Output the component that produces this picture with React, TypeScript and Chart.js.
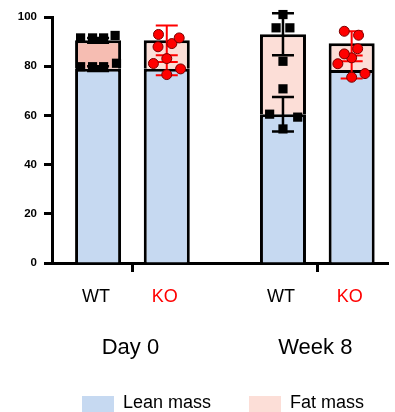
import React, { useEffect, useRef } from "react";
import { Chart, registerables } from "chart.js";

Chart.register(...registerables);

// ---------- data ----------
const TIMEPOINTS = ["Day 0", "Week 8"];
const GENOTYPES = ["WT", "KO"];
const SERIES = ["Lean mass", "Fat mass"];
const Y_TICKS = [0, 20, 40, 60, 80, 100];

const WT_LEAN = [79, 60.5];
const WT_FAT = [11.5, 32.5];
const KO_LEAN = [79, 78.5];
const KO_FAT = [11.5, 10.8];

const WT_LEAN_SD = [1, 7];
const WT_TOTAL_SD = [1, 8.5];
const KO_LEAN_SD = [2.7, 3.5];
const KO_TOTAL_SD = [6, 4.9];

// individual animals (per timepoint)
const WT_TOTAL_PTS = [[91.5, 91.5, 91.5, 92.5], [101, 95.6, 95.6, 82]];
const WT_LEAN_PTS = [[79.8, 79.8, 79.8, 81.2], [70.8, 60.5, 59.3, 54.5]];
const KO_TOTAL_PTS = [[92.9, 87.9, 89.2, 91.5], [94.2, 92.6, 87.1, 85]];
const KO_LEAN_PTS = [[81.1, 83.1, 76.6, 78.9], [83.4, 81, 75.5, 77]];

// horizontal scatter of the dots, as a fraction of the bar width
const WT_TOTAL_JIT = [[-0.38, -0.12, 0.12, 0.37], [0, -0.15, 0.15, 0]];
const WT_LEAN_JIT = [[-0.38, -0.12, 0.12, 0.4], [0, -0.29, 0.32, 0]];
const KO_TOTAL_JIT = [[-0.18, -0.19, 0.11, 0.27], [-0.16, 0.15, 0.13, -0.16]];
const KO_LEAN_JIT = [[-0.29, 0, 0, 0.3], [0, -0.3, 0, 0.29]];

// ---------- styles ----------
const FONT = '"Liberation Sans", Arial, sans-serif';
const LEAN_COLOR = "#C6D9F1";
const FAT_COLOR = "#FCDED7";
const FAT_DARK = "#F6BDB2";
const GENO_COLORS = ["#000000", "#FF0000"];
const CAT_PCT = 0.743;
const BAR_PCT = 0.67;

const barCenter = (i: number, g: number) => i + (g === 0 ? -1 : 1) * (CAT_PCT / 4);
const BAR_W_UNITS = (CAT_PCT / 2) * BAR_PCT;

function pts(vals: number[][], jit: number[][], g: number) {
  const out: { x: number; y: number }[] = [];
  vals.forEach((row, i) =>
    row.forEach((v, k) => out.push({ x: barCenter(i, g) + jit[i][k] * BAR_W_UNITS, y: v }))
  );
  return out;
}

const errorBarsPlugin = {
  id: "errorBars",
  beforeDatasetsDraw(chart: any) {
    chart.$errDrawn = false;
  },
  beforeDatasetDraw(chart: any, args: any) {
    if (args.meta.type !== "scatter" || chart.$errDrawn) return;
    chart.$errDrawn = true;
    const ctx = chart.ctx;
    const y = chart.scales.y;
    const groups = [
      { ds: 0, lean: WT_LEAN, fat: WT_FAT, lsd: WT_LEAN_SD, tsd: WT_TOTAL_SD, color: GENO_COLORS[0], lw: 2.5 },
      { ds: 2, lean: KO_LEAN, fat: KO_FAT, lsd: KO_LEAN_SD, tsd: KO_TOTAL_SD, color: GENO_COLORS[1], lw: 2 },
    ];
    ctx.save();
    groups.forEach((g) => {
      const meta = chart.getDatasetMeta(g.ds);
      meta.data.forEach((el: any, i: number) => {
        const cx = el.x;
        const bars = [
          [g.lean[i], g.lsd[i]],
          [g.lean[i] + g.fat[i], g.tsd[i]],
        ];
        ctx.strokeStyle = g.color;
        ctx.lineWidth = g.lw;
        bars.forEach(([m, sd]) => {
          const top = y.getPixelForValue(m + sd);
          const bot = y.getPixelForValue(m - sd);
          ctx.beginPath();
          ctx.moveTo(cx, top);
          ctx.lineTo(cx, bot);
          ctx.moveTo(cx - 11, top);
          ctx.lineTo(cx + 11, top);
          ctx.moveTo(cx - 11, bot);
          ctx.lineTo(cx + 11, bot);
          ctx.stroke();
        });
      });
    });
    ctx.restore();
  },
};

const labelsPlugin = {
  id: "textLabels",
  afterDraw(chart: any) {
    const ctx = chart.ctx;
    const xs = chart.scales.x;
    ctx.save();
    ctx.textAlign = "center";
    ctx.textBaseline = "alphabetic";
    ctx.font = `18px ${FONT}`;
    [0, 2].forEach((dsIndex, g) => {
      chart.getDatasetMeta(dsIndex).data.forEach((el: any) => {
        ctx.fillStyle = GENO_COLORS[g];
        ctx.fillText(GENOTYPES[g], el.x - 2, 302);
      });
    });
    ctx.font = `22px ${FONT}`;
    ctx.fillStyle = "#000";
    TIMEPOINTS.forEach((t, i) => ctx.fillText(t, xs.getPixelForValue(i) - 2, 354));

    // legend
    ctx.font = `18px ${FONT}`;
    ctx.textAlign = "left";
    const colors = [LEAN_COLOR, FAT_COLOR];
    let lx = 82;
    SERIES.forEach((s, k) => {
      ctx.fillStyle = colors[k];
      ctx.fillRect(lx, 396, 32, 20);
      ctx.fillStyle = "#000";
      ctx.fillText(s, lx + 41, 408);
      lx = Math.round(lx + 41 + ctx.measureText(s).width + 38);
    });
    ctx.restore();
  },
};

export default function App() {
  const ref = useRef<HTMLCanvasElement | null>(null);

  useEffect(() => {
    if (!ref.current) return;
    const barCommon = {
      type: "bar" as const,
      borderColor: "#000",
      borderWidth: 3,
      borderSkipped: "start",
      categoryPercentage: CAT_PCT,
      barPercentage: BAR_PCT,
      order: 2,
    };
    const chart = new Chart(ref.current, {
      type: "bar",
      data: {
        datasets: [
          {
            ...barCommon,
            label: "WT " + SERIES[0],
            stack: "WT",
            data: WT_LEAN.map((v, i) => ({ x: i, y: v })),
            backgroundColor: LEAN_COLOR,
          },
          {
            ...barCommon,
            label: "WT " + SERIES[1],
            stack: "WT",
            data: WT_LEAN.map((v, i) => ({ x: i, y: [v, v + WT_FAT[i]] })),
            backgroundColor: [FAT_DARK, FAT_COLOR],
          },
          {
            ...barCommon,
            label: "KO " + SERIES[0],
            stack: "KO",
            data: KO_LEAN.map((v, i) => ({ x: i, y: v })),
            backgroundColor: LEAN_COLOR,
          },
          {
            ...barCommon,
            label: "KO " + SERIES[1],
            stack: "KO",
            data: KO_LEAN.map((v, i) => ({ x: i, y: [v, v + KO_FAT[i]] })),
            backgroundColor: FAT_COLOR,
          },
          {
            type: "scatter",
            label: "WT total",
            data: pts(WT_TOTAL_PTS, WT_TOTAL_JIT, 0),
            pointStyle: "rect",
            pointRadius: 6.5,
            backgroundColor: "#000",
            borderColor: "#000",
            borderWidth: 0,
            order: 0,
            clip: false,
          },
          {
            type: "scatter",
            label: "WT lean",
            data: pts(WT_LEAN_PTS, WT_LEAN_JIT, 0),
            pointStyle: "rect",
            pointRadius: 6.5,
            backgroundColor: "#000",
            borderColor: "#000",
            borderWidth: 0,
            order: 0,
            clip: false,
          },
          {
            type: "scatter",
            label: "KO total",
            data: pts(KO_TOTAL_PTS, KO_TOTAL_JIT, 1),
            pointStyle: "circle",
            pointRadius: 5,
            backgroundColor: "#FF0000",
            borderColor: "#7a0000",
            borderWidth: 1,
            order: 0,
            clip: false,
          },
          {
            type: "scatter",
            label: "KO lean",
            data: pts(KO_LEAN_PTS, KO_LEAN_JIT, 1),
            pointStyle: "circle",
            pointRadius: 5,
            backgroundColor: "#FF0000",
            borderColor: "#7a0000",
            borderWidth: 1,
            order: 0,
            clip: false,
          },
        ] as any,
      },
      options: {
        animation: false,
        responsive: true,
        maintainAspectRatio: false,
        layout: { padding: { top: 17, left: 0, right: 0, bottom: 0 } },
        plugins: { legend: { display: false }, tooltip: { enabled: false } },
        scales: {
          x: {
            type: "linear",
            min: -0.435,
            max: 1.385,
            offset: false,
            afterBuildTicks: (s: any) => {
              s.ticks = TIMEPOINTS.map((_, i) => ({ value: i }));
            },
            afterFit: (s: any) => {
              s.height = 149;
            },
            ticks: { display: false },
            grid: {
              offset: false,
              drawOnChartArea: false,
              drawTicks: true,
              tickLength: 9,
              tickWidth: 3,
              color: "#000",
            },
            border: { display: true, color: "#000", width: 3 },
          },
          y: {
            type: "linear",
            min: 0,
            max: 100,
            stacked: false,
            afterBuildTicks: (s: any) => {
              s.ticks = Y_TICKS.map((v) => ({ value: v }));
            },
            afterFit: (s: any) => {
              s.width = 52;
            },
            ticks: {
              color: "#000",
              padding: 7,
              font: { family: FONT, size: 11.5, weight: "bold" },
            },
            grid: {
              drawOnChartArea: false,
              drawTicks: true,
              tickLength: 8,
              tickWidth: 3,
              color: "#000",
            },
            border: { display: true, color: "#000", width: 3 },
          },
        },
      } as any,
      plugins: [errorBarsPlugin, labelsPlugin],
    });
    return () => chart.destroy();
  }, []);

  return (
    <div style={{ position: "absolute", left: 0, top: 0, width: 395, height: 412, background: "#fff" }}>
      <canvas ref={ref} />
    </div>
  );
}
